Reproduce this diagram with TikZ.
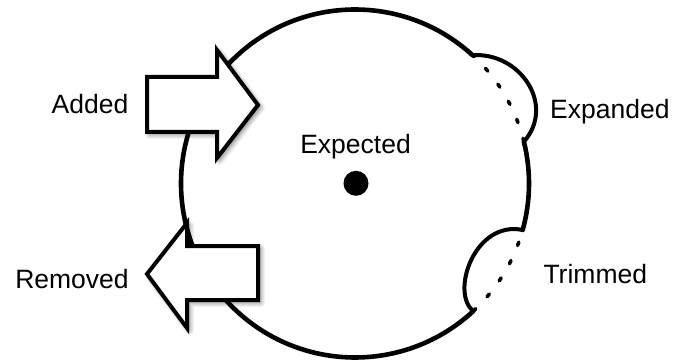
\documentclass[tikz,border=0pt]{standalone}
\usepackage{fontspec}
\setmainfont{Liberation Sans}
\usetikzlibrary{shadows.blur}
\tikzset{
  outline/.style={line width=4.6pt, line cap=round},
  bumpline/.style={line width=4pt, line cap=round},
  dotline/.style={line width=3.6pt, line cap=round, dash pattern=on 3.5pt off 16.5pt},
  bigarrow/.style={line width=4pt, fill=white, line join=miter,
    blur shadow={shadow xshift=2.5pt, shadow yshift=-2.5pt, shadow blur radius=5pt, shadow blur steps=8, shadow opacity=55}},
  lbl/.style={font=\fontsize{26.5}{30}\selectfont, inner sep=0pt}
}
\begin{document}
\begin{tikzpicture}[x=1pt,y=1pt]
\useasboundingbox (0,0) rectangle (677,362);
\coordinate (C) at (355,178.5);
\path (C) ++(47.5:174) coordinate (E1);
\path (C) ++(13.9:174) coordinate (E2);
\path (C) ++(-15.5:174) coordinate (T1);
\path (C) ++(-47.2:174) coordinate (T2);
% main circle (solid parts)
\draw[outline] (E1) arc[start angle=47.5, end angle=312.8, radius=174];
\draw[outline] (T1) arc[start angle=-15.5, end angle=13.9, radius=174];
% dotted original boundary
\draw[dotline] (E2) arc[start angle=13.9, end angle=47.5, radius=174];
\draw[dotline] (T2) arc[start angle=-47.2, end angle=-15.5, radius=174];
% bumps
\draw[bumpline] (E1) .. controls (520,310) and (556,257) .. (E2);
\draw[bumpline] (T1) .. controls (475,142) and (450,70) .. (T2);
% arrows
\draw[bigarrow] (147,285) -- (217,285) -- (217,312) -- (258,257) -- (217,204) -- (217,230) -- (147,230) -- cycle;
\draw[bigarrow] (258,116) -- (187,116) -- (187,139) -- (147,88) -- (187,34) -- (187,62) -- (258,62) -- cycle;
% centre dot
\node[circle, fill=black, minimum size=25pt, inner sep=0pt] (dot) at (356,178.7) {};
% labels
\node[lbl, anchor=base] (added) at (90,248.7) {Added};
\node[lbl, anchor=base] (removed) at (72,73.7) {Removed};
\node[lbl, anchor=base] (expected) at (355.5,208.7) {Expected};
\node[lbl, anchor=base west] (expanded) at (550,243.7) {Expanded};
\node[lbl, anchor=base west] (trimmed) at (543.3,78.7) {Trimmed};
\end{tikzpicture}
\end{document}
